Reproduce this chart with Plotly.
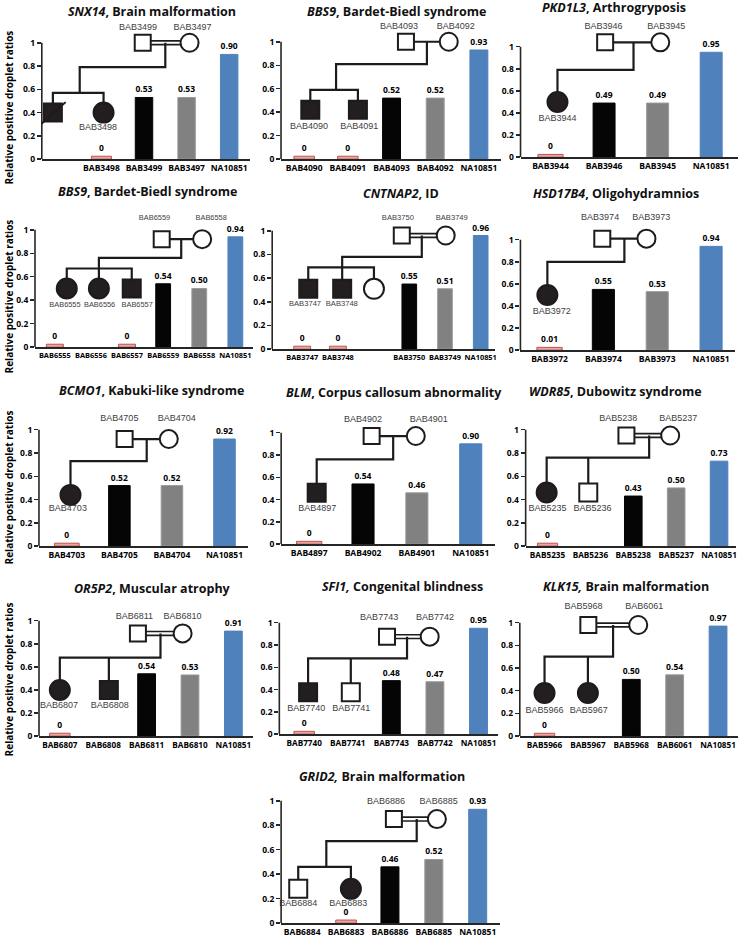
import plotly.graph_objects as go

# ============================ DATA ============================
y_ticks = [0, 0.2, 0.4, 0.6, 0.8, 1.0]
y_tick_text = ["0", "0.2", "0.4", "0.6", "0.8", "1"]
y_title = "Relative positive droplet ratios"

titles = [
    "<i>SNX14</i>, Brain malformation",
    "<i>BBS9</i>, Bardet-Biedl syndrome",
    "<i>PKD1L3</i>, Arthrogryposis",
    "<i>BBS9</i>, Bardet-Biedl syndrome",
    "<i>CNTNAP2</i>, ID",
    "<i>HSD17B4</i>, Oligohydramnios",
    "<i>BCMO1</i>, Kabuki-like syndrome",
    "<i>BLM</i>, Corpus callosum abnormality",
    "<i>WDR85</i>, Dubowitz syndrome",
    "<i>OR5P2</i>, Muscular atrophy",
    "<i>SFI1,</i> Congenital blindness",
    "<i>KLK15,</i> Brain malformation",
    "<i>GRID2,</i> Brain malformation",
]

p1_cats = ["", "BAB3498", "BAB3499", "BAB3497", "NA10851"]
p1_vals = [None, 0, 0.53, 0.53, 0.90]
p1_roles = ["child", "proband", "father", "mother", "control"]

p2_cats = ["BAB4090", "BAB4091", "BAB4093", "BAB4092", "NA10851"]
p2_vals = [0, 0, 0.52, 0.52, 0.93]
p2_roles = ["proband", "proband", "father", "mother", "control"]

p3_cats = ["BAB3944", "BAB3946", "BAB3945", "NA10851"]
p3_vals = [0, 0.49, 0.49, 0.95]
p3_roles = ["proband", "father", "mother", "control"]

p4_cats = ["BAB6555", "BAB6556", "BAB6557", "BAB6559", "BAB6558", "NA10851"]
p4_vals = [0, None, 0, 0.54, 0.50, 0.94]
p4_roles = ["proband", "proband", "proband", "father", "mother", "control"]

p5_cats = ["BAB3747", "BAB3748", "", "BAB3750", "BAB3749", "NA10851"]
p5_vals = [0, 0, None, 0.55, 0.51, 0.96]
p5_roles = ["proband", "proband", "child", "father", "mother", "control"]

p6_cats = ["BAB3972", "BAB3974", "BAB3973", "NA10851"]
p6_vals = [0.01, 0.55, 0.53, 0.94]
p6_roles = ["proband", "father", "mother", "control"]

p7_cats = ["BAB4703", "BAB4705", "BAB4704", "NA10851"]
p7_vals = [0, 0.52, 0.52, 0.92]
p7_roles = ["proband", "father", "mother", "control"]

p8_cats = ["BAB4897", "BAB4902", "BAB4901", "NA10851"]
p8_vals = [0, 0.54, 0.46, 0.90]
p8_roles = ["proband", "father", "mother", "control"]

p9_cats = ["BAB5235", "BAB5236", "BAB5238", "BAB5237", "NA10851"]
p9_vals = [0, None, 0.43, 0.50, 0.73]
p9_roles = ["proband", "child", "father", "mother", "control"]

p10_cats = ["BAB6807", "BAB6808", "BAB6811", "BAB6810", "NA10851"]
p10_vals = [0, None, 0.54, 0.53, 0.91]
p10_roles = ["proband", "proband", "father", "mother", "control"]

p11_cats = ["BAB7740", "BAB7741", "BAB7743", "BAB7742", "NA10851"]
p11_vals = [0, None, 0.48, 0.47, 0.95]
p11_roles = ["proband", "child", "father", "mother", "control"]

p12_cats = ["BAB5966", "BAB5967", "BAB5968", "BAB6061", "NA10851"]
p12_vals = [0, None, 0.50, 0.54, 0.97]
p12_roles = ["proband", "proband", "father", "mother", "control"]

p13_cats = ["BAB6884", "BAB6883", "BAB6886", "BAB6885", "NA10851"]
p13_vals = [None, 0, 0.46, 0.52, 0.93]
p13_roles = ["child", "proband", "father", "mother", "control"]

# ---- pedigree drawings (x in category units, y in ratio units) ----
p1_ped = dict(parents=((1.97, 3.07), 1.0, True),
              lines=[[(2.5, 1.0), (2.5, 0.79), (0.49, 0.79), (0.49, 0.57)],
                     [(-0.14, 0.40), (-0.14, 0.57), (1.05, 0.57), (1.05, 0.40)]],
              kids=[(-0.14, 0.40, "square", True), (1.05, 0.40, "circle", True)],
              slash=[(-0.42, 0.30), (0.16, 0.49)],
              names=[("BAB3499", 1.86, 1.13), ("BAB3497", 3.14, 1.13), ("BAB3498", 0.92, 0.27)])
p2_ped = dict(parents=((2.33, 3.31), 1.0, False),
              lines=[[(2.81, 1.0), (2.81, 0.81), (0.73, 0.81), (0.73, 0.59)],
                     [(0.14, 0.42), (0.14, 0.59), (1.23, 0.59), (1.23, 0.42)]],
              kids=[(0.14, 0.42, "square", True), (1.23, 0.42, "square", True)],
              names=[("BAB4093", 2.17, 1.13), ("BAB4092", 3.47, 1.13),
                     ("BAB4090", 0.11, 0.28), ("BAB4091", 1.26, 0.28)])
p3_ped = dict(parents=((1.02, 2.05), 1.04, False),
              lines=[[(1.55, 1.04), (1.55, 0.79), (0.13, 0.79), (0.13, 0.50)]],
              kids=[(0.13, 0.50, "circle", True)],
              names=[("BAB3946", 0.99, 1.18), ("BAB3945", 2.16, 1.18), ("BAB3944", 0.13, 0.35)])
p4_ped = dict(parents=((2.96, 4.08), 0.92, False),
              lines=[[(3.5, 0.92), (3.5, 0.76), (1.22, 0.76), (1.22, 0.50)],
                     [(0.33, 0.50), (0.33, 0.67), (2.13, 0.67), (2.13, 0.50)]],
              kids=[(0.33, 0.50, "circle", True), (1.22, 0.50, "circle", True),
                    (2.13, 0.50, "square", True)],
              names=[("BAB6559", 2.76, 1.10), ("BAB6558", 4.33, 1.10), ("BAB6555", 0.28, 0.36),
                     ("BAB6556", 1.24, 0.36), ("BAB6557", 2.28, 0.36)])
p5_ped = dict(parents=((2.79, 4.02), 0.96, True),
              lines=[[(3.35, 0.96), (3.35, 0.78), (1.12, 0.78), (1.12, 0.51)],
                     [(0.17, 0.51), (0.17, 0.69), (2.01, 0.69), (2.01, 0.51)]],
              kids=[(0.17, 0.51, "square", True), (1.12, 0.51, "square", True),
                    (2.01, 0.51, "circle", False)],
              names=[("BAB3750", 2.68, 1.11), ("BAB3749", 4.19, 1.11),
                     ("BAB3747", 0.08, 0.38), ("BAB3748", 1.11, 0.38)])
p6_ped = dict(parents=((0.98, 1.80), 1.01, False),
              lines=[[(1.39, 1.01), (1.39, 0.80), (-0.04, 0.80), (-0.04, 0.50)]],
              kids=[(-0.04, 0.50, "circle", True)],
              names=[("BAB3974", 0.94, 1.20), ("BAB3973", 1.89, 1.20), ("BAB3972", 0.04, 0.35)])
p7_ped = dict(parents=((1.10, 1.94), 0.92, False),
              lines=[[(1.52, 0.92), (1.52, 0.73), (0.07, 0.73), (0.07, 0.44)]],
              kids=[(0.07, 0.44, "circle", True)],
              names=[("BAB4705", 1.0, 1.09), ("BAB4704", 2.09, 1.09), ("BAB4703", 0.02, 0.32)])
p8_ped = dict(parents=((1.16, 1.98), 0.97, False),
              lines=[[(1.56, 0.97), (1.56, 0.76), (0.14, 0.76), (0.14, 0.46)]],
              kids=[(0.14, 0.46, "square", True)],
              names=[("BAB4902", 1.0, 1.12), ("BAB4901", 2.22, 1.12), ("BAB4897", 0.15, 0.32)])
p9_ped = dict(parents=((1.84, 2.86), 0.95, True),
              lines=[[(2.37, 0.95), (2.37, 0.76), (-0.02, 0.76), (-0.02, 0.46)],
                     [(0.95, 0.76), (0.95, 0.46)]],
              kids=[(-0.02, 0.46, "circle", True), (0.95, 0.46, "square", False)],
              names=[("BAB5238", 1.65, 1.09), ("BAB5237", 3.05, 1.09),
                     ("BAB5235", 0.0, 0.32), ("BAB5236", 1.05, 0.32)])
p10_ped = dict(parents=((1.80, 2.83), 0.89, True),
               lines=[[(2.32, 0.89), (2.32, 0.68), (0.0, 0.68), (0.0, 0.40)],
                      [(1.13, 0.68), (1.13, 0.40)]],
               kids=[(0.0, 0.40, "circle", True), (1.13, 0.40, "square", True)],
               names=[("BAB6811", 1.72, 1.03), ("BAB6810", 2.83, 1.03),
                      ("BAB6807", -0.02, 0.26), ("BAB6808", 1.15, 0.26)])
p11_ped = dict(parents=((1.90, 2.88), 0.875, True),
               lines=[[(2.36, 0.875), (2.36, 0.68), (0.09, 0.68), (0.09, 0.375)],
                      [(1.07, 0.68), (1.07, 0.375)]],
               kids=[(0.09, 0.375, "square", True), (1.07, 0.375, "square", False)],
               names=[("BAB7743", 1.72, 1.04), ("BAB7742", 3.0, 1.04),
                      ("BAB7740", 0.05, 0.23), ("BAB7741", 1.08, 0.23)])
p12_ped = dict(parents=((1.01, 2.16), 0.98, True),
               lines=[[(1.58, 0.98), (1.58, 0.70), (0.0, 0.70), (0.0, 0.38)],
                      [(1.0, 0.70), (1.0, 0.38)]],
               kids=[(0.0, 0.38, "circle", True), (1.0, 0.38, "circle", True)],
               names=[("BAB5968", 0.90, 1.14), ("BAB6061", 2.30, 1.14),
                      ("BAB5966", 0.0, 0.22), ("BAB5967", 1.02, 0.22)])
p13_ped = dict(parents=((2.09, 3.07), 0.85, True),
               lines=[[(2.61, 0.85), (2.61, 0.67), (0.55, 0.67), (0.55, 0.46)],
                      [(-0.09, 0.28), (-0.09, 0.46), (1.11, 0.46), (1.11, 0.28)]],
               kids=[(-0.09, 0.28, "square", False), (1.11, 0.28, "circle", True)],
               names=[("BAB6886", 1.91, 0.99), ("BAB6885", 3.11, 0.99),
                      ("BAB6884", -0.09, 0.16), ("BAB6883", 1.05, 0.16)])

panels = [
    (p1_cats, p1_vals, p1_roles, p1_ped), (p2_cats, p2_vals, p2_roles, p2_ped),
    (p3_cats, p3_vals, p3_roles, p3_ped), (p4_cats, p4_vals, p4_roles, p4_ped),
    (p5_cats, p5_vals, p5_roles, p5_ped), (p6_cats, p6_vals, p6_roles, p6_ped),
    (p7_cats, p7_vals, p7_roles, p7_ped), (p8_cats, p8_vals, p8_roles, p8_ped),
    (p9_cats, p9_vals, p9_roles, p9_ped), (p10_cats, p10_vals, p10_roles, p10_ped),
    (p11_cats, p11_vals, p11_roles, p11_ped), (p12_cats, p12_vals, p12_roles, p12_ped),
    (p13_cats, p13_vals, p13_roles, p13_ped),
]

# ============================ LAYOUT / STYLE ============================
W, H = 742, 949
# c0: pixel of first category, s: px per category, a/b: x range, y0: px of 0, h: px per unit
geom = [
    dict(c0=59, s=42.7, a=-0.40, b=4.5, y0=160, h=117, tx=152, ty=12, fs=8.5, nfs=9),
    dict(c0=305, s=43.8, a=-0.53, b=4.5, y0=160, h=118, tx=398, ty=12, fs=8.5, nfs=9),
    dict(c0=552, s=53.7, a=-0.56, b=3.5, y0=158, h=111, tx=616, ty=8, fs=8.5, nfs=9),
    dict(c0=55, s=36.2, a=-0.55, b=5.5, y0=349, h=118, tx=148, ty=193, fs=7.4, nfs=7.4),
    dict(c0=303, s=35.8, a=-0.84, b=5.4, y0=351, h=119, tx=402, ty=195, fs=7.4, nfs=7.6),
    dict(c0=551, s=54.0, a=-0.54, b=3.45, y0=352, h=111, tx=618, ty=195, fs=8.5, nfs=9),
    dict(c0=67, s=52.7, a=-0.53, b=3.45, y0=549, h=117, tx=152, ty=393, fs=8.5, nfs=9),
    dict(c0=310, s=54.0, a=-0.52, b=3.45, y0=547, h=112, tx=395, ty=395, fs=8.5, nfs=9),
    dict(c0=549, s=43.0, a=-0.51, b=4.4, y0=549, h=117, tx=617, ty=394, fs=8.2, nfs=9),
    dict(c0=60, s=43.5, a=-0.48, b=4.45, y0=740, h=116, tx=153, ty=592, fs=8.2, nfs=9),
    dict(c0=305, s=43.7, a=-0.57, b=4.45, y0=738, h=112, tx=404, ty=590, fs=8.2, nfs=9),
    dict(c0=546, s=43.5, a=-0.57, b=4.45, y0=740, h=114, tx=628, ty=590, fs=8.2, nfs=9),
    dict(c0=303, s=44.0, a=-0.48, b=4.5, y0=928, h=123, tx=383, ty=781, fs=8.5, nfs=9),
]
ytitle_centers = [108, 298, 490, 683]

FONT = "Open Sans"
LBL_FONT = "Liberation Sans"
INK = "#1e1b1c"
AXIS = "#262626"
VMAX = 1.25
MINH = 0.025
FILL = {"proband": "#E7A8A3", "father": "#050505", "mother": "#818181",
        "control": "#4F81BD", "child": "#ffffff"}
EDGE = {"proband": "#C0504D", "father": "#050505", "mother": "#999999",
        "control": "#4F81BD", "child": "#ffffff"}


def fmt(v):
    return "0" if v == 0 else f"{v:.2f}"


fig = go.Figure()
layout = {}
shapes = []
annotations = []

for k, ((cats, vals, roles, ped), g) in enumerate(zip(panels, geom), start=1):
    sfx = "" if k == 1 else str(k)
    xa, ya = "x" + sfx, "y" + sfx
    left = g["c0"] + g["s"] * g["a"]
    right = g["c0"] + g["s"] * g["b"]
    top = g["y0"] - g["h"] * VMAX
    layout["xaxis" + sfx] = dict(
        domain=[left / W, right / W], range=[g["a"], g["b"]], anchor=ya,
        showline=True, linecolor=AXIS, linewidth=1.8, ticks="", tickangle=0,
        tickvals=list(range(len(cats))), ticktext=cats,
        tickfont=dict(family=FONT, size=g["fs"], color="black", weight="bold"),
        showgrid=False, zeroline=False, fixedrange=True)
    layout["yaxis" + sfx] = dict(
        domain=[1 - g["y0"] / H, 1 - top / H], range=[0, VMAX], anchor=xa,
        showline=False, ticks="outside", ticklen=4, tickwidth=1.5, tickcolor=AXIS,
        tickvals=y_ticks, ticktext=y_tick_text,
        tickfont=dict(family=FONT, size=8.5, color="black", weight="bold"),
        showgrid=False, zeroline=False, fixedrange=True)
    shapes.append(dict(type="line", xref=xa + " domain", yref=ya, x0=0, x1=0, y0=0, y1=1,
                       line=dict(color=AXIS, width=1.6)))

    # bars
    idx = [i for i, v in enumerate(vals) if v is not None]
    fig.add_trace(go.Bar(
        x=idx, y=[max(vals[i], MINH) for i in idx],
        width=[0.47 if roles[i] == "proband" else 0.41 for i in idx],
        marker=dict(color=[FILL[roles[i]] for i in idx],
                    line=dict(color=[EDGE[roles[i]] for i in idx], width=1)),
        text=[fmt(vals[i]) for i in idx], textposition="outside",
        textfont=dict(family=FONT, size=8.5, color="black", weight="bold"),
        constraintext="none", cliponaxis=False, hoverinfo="skip",
        xaxis=xa, yaxis=ya))

    # pedigree
    (fx, mx), py, cons = ped["parents"]
    d = 1.9 / g["h"]
    mxs, mys = [], []
    if cons:
        for off in (d, -d):
            mxs += [fx, mx, None]
            mys += [py + off, py + off, None]
    else:
        mxs += [fx, mx, None]
        mys += [py, py, None]
    fig.add_trace(go.Scatter(x=mxs, y=mys, mode="lines",
                             line=dict(color=INK, width=1.7 if cons else 2.2),
                             hoverinfo="skip", xaxis=xa, yaxis=ya))
    lx, ly = [], []
    for pl in ped["lines"]:
        for (x, y) in pl:
            lx.append(x)
            ly.append(y)
        lx.append(None)
        ly.append(None)
    fig.add_trace(go.Scatter(x=lx, y=ly, mode="lines", line=dict(color=INK, width=2.2),
                             hoverinfo="skip", xaxis=xa, yaxis=ya))

    sx = [fx, mx] + [kd[0] for kd in ped["kids"]]
    sy = [py, py] + [kd[1] for kd in ped["kids"]]
    sym = ["square", "circle"] + [kd[2] for kd in ped["kids"]]
    size = [16, 18] + [18 if kd[2] == "square" else 20 for kd in ped["kids"]]
    col = ["white", "white"] + ["#231F20" if kd[3] else "white" for kd in ped["kids"]]
    fig.add_trace(go.Scatter(x=sx, y=sy, mode="markers",
                             marker=dict(symbol=sym, size=size, color=col, opacity=1,
                                         line=dict(color=INK, width=2)),
                             cliponaxis=False, hoverinfo="skip", xaxis=xa, yaxis=ya))
    if "slash" in ped:
        (x0, y0), (x1, y1) = ped["slash"]
        fig.add_trace(go.Scatter(x=[x0, x1], y=[y0, y1], mode="lines",
                                 line=dict(color=INK, width=2),
                                 hoverinfo="skip", xaxis=xa, yaxis=ya))
    fig.add_trace(go.Scatter(x=[n[1] for n in ped["names"]], y=[n[2] for n in ped["names"]],
                             text=[n[0] for n in ped["names"]], mode="text",
                             textfont=dict(family=LBL_FONT, size=g["nfs"], color="#404040"),
                             cliponaxis=False, hoverinfo="skip", xaxis=xa, yaxis=ya))

    annotations.append(dict(text=titles[k - 1], x=g["tx"] / W, y=1 - g["ty"] / H,
                            xref="paper", yref="paper", xanchor="center", yanchor="middle",
                            showarrow=False,
                            font=dict(family=FONT, size=12.5, color="#111111", weight="bold")))

for yc in ytitle_centers:
    annotations.append(dict(text=y_title, x=9 / W, y=1 - yc / H, xref="paper", yref="paper",
                            xanchor="center", yanchor="middle", textangle=-90, showarrow=False,
                            font=dict(family=FONT, size=10, color="black", weight="bold")))

fig.update_layout(**layout)
fig.update_layout(width=W, height=H, margin=dict(l=0, r=0, t=0, b=0),
                  paper_bgcolor="white", plot_bgcolor="rgba(0,0,0,0)", showlegend=False,
                  hovermode=False, shapes=shapes, annotations=annotations)

fig.write_html("out.html", config={"displayModeBar": False, "staticPlot": True},
               post_script="document.body.style.margin='0';document.body.style.overflow='hidden';")
